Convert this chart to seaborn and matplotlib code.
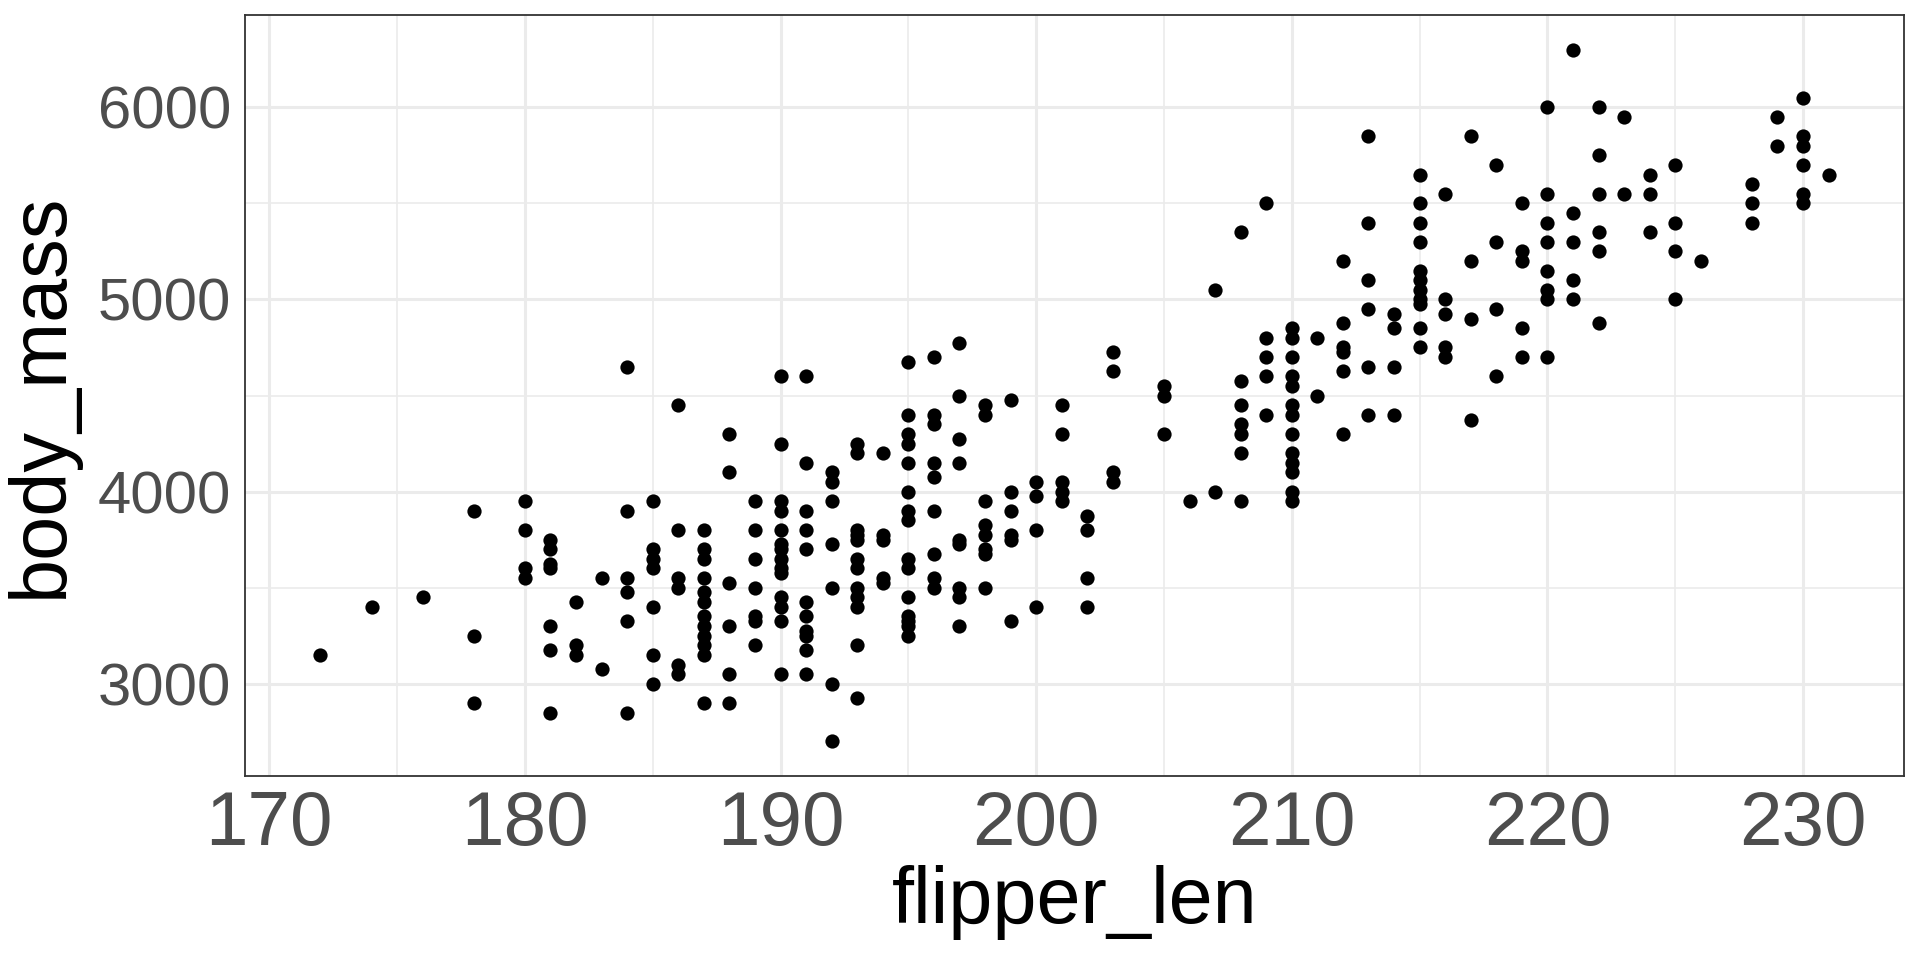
import pandas as pd
import seaborn as sns
import matplotlib.pyplot as plt
from matplotlib.ticker import MultipleLocator

# ==========================================
# DATA
# ==========================================

flipper_len = (
    [172] + [174] + [176] + [178] * 3 + [180] * 4 + [181] * 7 + [182] * 3
    + [183] * 2 + [184] * 6 + [185] * 7 + [186] * 6 + [187] * 12
    + [188] * 6 + [189] * 7 + [190] * 14 + [191] * 11 + [192] * 7
    + [193] * 12 + [194] * 5 + [195] * 15 + [196] * 9 + [197] * 9
    + [198] * 8 + [199] * 6 + [200] * 4 + [201] * 5 + [202] * 4
    + [203] * 4 + [205] * 3 + [206] + [207] * 2 + [208] * 7 + [209] * 5
    + [210] * 13 + [211] * 2 + [212] * 6 + [213] * 6 + [214] * 4
    + [215] * 11 + [216] * 5 + [217] * 4 + [218] * 4 + [219] * 5
    + [220] * 8 + [221] * 5 + [222] * 6 + [223] * 2 + [224] * 3
    + [225] * 4 + [226] + [228] * 3 + [229] * 2 + [230] * 6 + [231]
)

body_mass = [
    3150,
    3400,
    3450,
    3900, 3250, 2900,
    3950, 3800, 3600, 3550,
    3750, 3700, 3625, 3600, 3300, 3175, 2850,
    3425, 3200, 3150,
    3550, 3075,
    4650, 3900, 3550, 3475, 3325, 2850,
    3950, 3700, 3650, 3600, 3400, 3150, 3000,
    4450, 3800, 3550, 3500, 3100, 3050,
    3800, 3700, 3650, 3550, 3475, 3425, 3350, 3300, 3250, 3200, 3150, 2900,
    4300, 4100, 3525, 3300, 3050, 2900,
    3950, 3800, 3650, 3500, 3350, 3325, 3200,
    4600, 4250, 3950, 3900, 3800, 3725, 3700, 3650, 3600, 3575, 3450, 3400,
    3325, 3050,
    4600, 4150, 3900, 3800, 3700, 3425, 3350, 3275, 3250, 3175, 3050,
    4100, 4050, 3950, 3725, 3500, 3000, 2700,
    4250, 4200, 3800, 3775, 3750, 3650, 3600, 3500, 3450, 3400, 3200, 2925,
    4200, 3775, 3750, 3550, 3525,
    4675, 4400, 4300, 4250, 4150, 4000, 3900, 3850, 3650, 3600, 3450, 3350,
    3325, 3300, 3250,
    4700, 4400, 4350, 4150, 4075, 3900, 3675, 3550, 3500,
    4775, 4500, 4275, 4150, 3750, 3725, 3500, 3450, 3300,
    4450, 4400, 3950, 3825, 3775, 3700, 3675, 3500,
    4475, 4000, 3900, 3775, 3750, 3325,
    4050, 3975, 3800, 3400,
    4450, 4300, 4050, 4000, 3950,
    3875, 3800, 3550, 3400,
    4725, 4625, 4100, 4050,
    4550, 4500, 4300,
    3950,
    5050, 4000,
    5350, 4575, 4450, 4350, 4300, 4200, 3950,
    5500, 4800, 4700, 4600, 4400,
    4850, 4800, 4700, 4600, 4550, 4450, 4400, 4300, 4200, 4150, 4100, 4000,
    3950,
    4800, 4500,
    5200, 4875, 4750, 4725, 4625, 4300,
    5850, 5400, 5100, 4950, 4650, 4400,
    4925, 4850, 4650, 4400,
    5650, 5500, 5400, 5300, 5150, 5100, 5050, 5000, 4975, 4850, 4750,
    5550, 5000, 4925, 4750, 4700,
    5850, 5200, 4900, 4375,
    5700, 5300, 4950, 4600,
    5500, 5250, 5200, 4850, 4700,
    6000, 5550, 5400, 5300, 5150, 5050, 5000, 4700,
    6300, 5450, 5300, 5100, 5000,
    6000, 5750, 5550, 5350, 5250, 4875,
    5950, 5550,
    5650, 5550, 5350,
    5700, 5400, 5250, 5000,
    5200,
    5600, 5500, 5400,
    5950, 5800,
    6050, 5850, 5800, 5700, 5550, 5500,
    5650,
]

x_ticks = [170, 180, 190, 200, 210, 220, 230]
y_ticks = [3000, 4000, 5000, 6000]

df = pd.DataFrame({
    "flipper_len": flipper_len,
    "body_mass": body_mass
})

# ==========================================
# PLOT
# ==========================================

sns.set_theme(style="white")
plt.rcParams["font.family"] = ["Liberation Sans", "DejaVu Sans"]

fig = plt.figure(figsize=(19.2, 9.6), dpi=100)
ax = fig.add_axes([245 / 1920, 1 - 776 / 960, 1659 / 1920, 761 / 960])

sns.scatterplot(
    data=df,
    x="flipper_len",
    y="body_mass",
    color="black",
    s=105,
    linewidth=0,
    ax=ax,
    zorder=3
)

span_x = max(flipper_len) - min(flipper_len)
span_y = max(body_mass) - min(body_mass)
ax.set_xlim(min(flipper_len) - 0.05 * span_x, max(flipper_len) + 0.05 * span_x)
ax.set_ylim(min(body_mass) - 0.05 * span_y, max(body_mass) + 0.05 * span_y)

ax.set_xticks(x_ticks)
ax.set_yticks(y_ticks)
ax.xaxis.set_minor_locator(MultipleLocator(5))
ax.yaxis.set_minor_locator(MultipleLocator(500))

ax.grid(which="major", color="#EBEBEB", linewidth=2.2, zorder=0)
ax.grid(which="minor", color="#EBEBEB", linewidth=1.2, zorder=0)
ax.set_axisbelow(True)

for side in ax.spines.values():
    side.set_color("#333333")
    side.set_linewidth(1.3)

ax.tick_params(
    which="major",
    direction="out",
    length=5.8,
    width=1.4,
    color="#333333",
    labelcolor="#4D4D4D",
    pad=4
)
ax.tick_params(axis="x", labelsize=55)
ax.tick_params(axis="y", labelsize=43)
ax.tick_params(which="minor", length=0)

ax.set_xlabel("flipper_len", fontsize=57, color="black", labelpad=3)
ax.set_ylabel("body_mass", fontsize=57, color="black", labelpad=14)

fig.savefig("out.png", dpi=100, facecolor="white")
